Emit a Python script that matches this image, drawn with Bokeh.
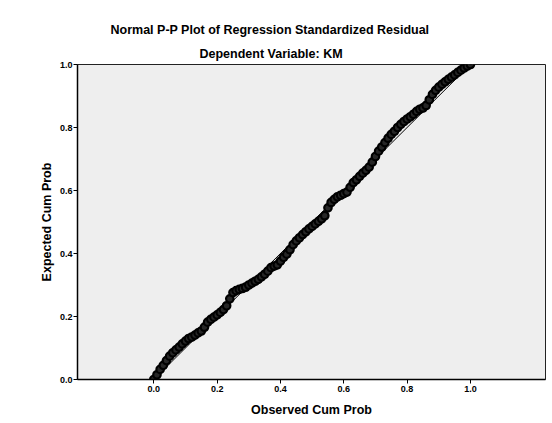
from bokeh.plotting import figure
from bokeh.models import Range1d, FixedTicker, Title, CustomJSTickFormatter
from bokeh.embed import file_html
from bokeh.resources import INLINE

title_text = "Normal P-P Plot of Regression Standardized Residual"
subtitle_text = "Dependent Variable: KM"
x_label = "Observed Cum Prob"
y_label = "Expected Cum Prob"

tick_values = [0.0, 0.2, 0.4, 0.6, 0.8, 1.0]

observed = [0.000, 0.010, 0.020, 0.030, 0.040, 0.050, 0.060, 0.070, 0.080, 0.090,
            0.100, 0.110, 0.120, 0.130, 0.140, 0.150, 0.160, 0.170, 0.180, 0.190,
            0.200, 0.210, 0.220, 0.230, 0.240, 0.250, 0.260, 0.270, 0.280, 0.290,
            0.300, 0.310, 0.320, 0.330, 0.340, 0.350, 0.360, 0.370, 0.380, 0.390,
            0.400, 0.410, 0.420, 0.430, 0.440, 0.450, 0.460, 0.470, 0.480, 0.490,
            0.500, 0.510, 0.520, 0.530, 0.540, 0.550, 0.560, 0.570, 0.580, 0.590,
            0.600, 0.610, 0.620, 0.630, 0.640, 0.650, 0.660, 0.670, 0.680, 0.690,
            0.700, 0.710, 0.720, 0.730, 0.740, 0.750, 0.760, 0.770, 0.780, 0.790,
            0.800, 0.810, 0.820, 0.830, 0.840, 0.850, 0.860, 0.870, 0.880, 0.890,
            0.900, 0.910, 0.920, 0.930, 0.940, 0.950, 0.960, 0.970, 0.980, 0.990,
            1.000]

expected = [0.000, 0.015, 0.032, 0.045, 0.060, 0.074, 0.085, 0.094, 0.103, 0.113,
            0.122, 0.130, 0.135, 0.141, 0.148, 0.154, 0.166, 0.182, 0.191, 0.198,
            0.205, 0.213, 0.222, 0.234, 0.256, 0.276, 0.282, 0.286, 0.289, 0.293,
            0.300, 0.306, 0.312, 0.318, 0.326, 0.334, 0.344, 0.355, 0.360, 0.364,
            0.376, 0.388, 0.398, 0.412, 0.428, 0.440, 0.450, 0.460, 0.469, 0.478,
            0.486, 0.494, 0.502, 0.510, 0.520, 0.545, 0.562, 0.572, 0.580, 0.585,
            0.590, 0.595, 0.610, 0.625, 0.634, 0.645, 0.655, 0.664, 0.674, 0.690,
            0.708, 0.725, 0.738, 0.752, 0.766, 0.778, 0.788, 0.800, 0.810, 0.819,
            0.827, 0.834, 0.842, 0.851, 0.858, 0.862, 0.870, 0.888, 0.905, 0.918,
            0.928, 0.937, 0.945, 0.953, 0.960, 0.967, 0.975, 0.982, 0.989, 0.995,
            1.000]

ref_x = [0.0, 1.0]
ref_y = [0.0, 1.0]

FONT = "Liberation Sans"

p = figure(width=552, height=423, output_backend="svg", toolbar_location=None,
           x_range=Range1d(-0.241, 1.237), y_range=Range1d(0.0, 1.0),
           min_border_left=77, min_border_right=7, min_border_top=64,
           min_border_bottom=44)

p.background_fill_color = "#eeeeee"
p.border_fill_color = "white"
p.outline_line_color = "#222222"
p.outline_line_width = 1
p.grid.visible = False

fmt = CustomJSTickFormatter(code="return tick.toFixed(1);")
for ax in (p.xaxis[0], p.yaxis[0]):
    ax.ticker = FixedTicker(ticks=tick_values)
    ax.formatter = fmt
    ax.axis_line_color = "black"
    ax.axis_line_width = 1.5
    ax.major_tick_line_color = "black"
    ax.major_tick_line_width = 1
    ax.major_tick_out = 4
    ax.major_tick_in = 0
    ax.minor_tick_line_color = None
    ax.major_label_text_font = FONT
    ax.major_label_text_font_style = "bold"
    ax.major_label_text_font_size = "9px"
    ax.major_label_text_color = "black"
    ax.axis_label_text_font = FONT
    ax.axis_label_text_font_style = "bold"
    ax.axis_label_text_font_size = "12.5px"
    ax.axis_label_text_color = "black"

p.xaxis[0].axis_label = x_label
p.yaxis[0].axis_label = y_label
p.xaxis[0].major_label_standoff = 2
p.yaxis[0].major_label_standoff = 1
p.xaxis[0].axis_label_standoff = 8
p.yaxis[0].axis_label_standoff = 3

p.line(ref_x, ref_y, line_color="black", line_width=1)
p.scatter(observed, expected, marker="circle", size=7.5, line_color="black",
          line_width=2.2, fill_color="#262626")

sub = Title(text=subtitle_text, text_font=FONT, text_font_style="bold",
            text_font_size="12.5px", align="left", offset=122, standoff=8,
            text_color="black")
ttl = Title(text=title_text, text_font=FONT, text_font_style="bold",
            text_font_size="12.5px", align="left", offset=33, standoff=8,
            text_color="black")
p.add_layout(sub, "above")
p.add_layout(ttl, "above")

open("out.html", "w").write(file_html(p, INLINE))
